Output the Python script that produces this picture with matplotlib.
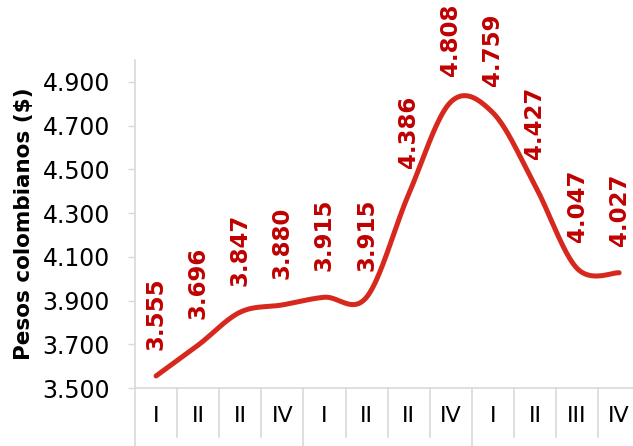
import numpy as np
import matplotlib.pyplot as plt
from matplotlib.transforms import blended_transform_factory

# Data
quarters = ['I', 'II', 'II', 'IV', 'I', 'II', 'II', 'IV', 'I', 'II', 'III', 'IV']
values = [3.555, 3.696, 3.847, 3.880, 3.915, 3.915, 4.386, 4.808, 4.759, 4.427, 4.047, 4.027]
yticks = [3.5, 3.7, 3.9, 4.1, 4.3, 4.5, 4.7, 4.9]

line_color = '#D7281E'
label_color = '#C00000'
grid_color = '#D9D9D9'

W, H = 633, 446
fig = plt.figure(figsize=(W / 100, H / 100), dpi=100)
left, bottom, top, cat_w = 135, 388, 60, 42.1
ax = fig.add_axes([left / W, (H - bottom) / H, 12 * cat_w / W, (bottom - top) / H])

x = np.arange(len(values)) + 0.5
y = np.array(values)

# smooth line (Bezier with Catmull-Rom control points, like a spreadsheet smoothed line)
px = np.concatenate([[x[0]], x, [x[-1]]])
py = np.concatenate([[y[0]], y, [y[-1]]])
t = np.linspace(0, 1, 40)[:, None]
xs, ys = [], []
for i in range(1, len(px) - 2):
    p0 = np.array([px[i], py[i]])
    p3 = np.array([px[i + 1], py[i + 1]])
    c1 = p0 + (np.array([px[i + 1], py[i + 1]]) - np.array([px[i - 1], py[i - 1]])) / 6
    c2 = p3 - (np.array([px[i + 2], py[i + 2]]) - np.array([px[i], py[i]])) / 6
    b = (1 - t) ** 3 * p0 + 3 * (1 - t) ** 2 * t * c1 + 3 * (1 - t) * t ** 2 * c2 + t ** 3 * p3
    xs.append(b[:, 0])
    ys.append(b[:, 1])
ax.plot(np.concatenate(xs), np.concatenate(ys), color=line_color, lw=3.6,
        solid_capstyle='round', clip_on=False)

# data labels
for xi, v in zip(x, values):
    ax.annotate(f'{v:.3f}', (xi, v), xytext=(0, 19), textcoords='offset points',
                rotation=90, ha='center', va='bottom', color=label_color,
                fontsize=16.5, fontweight='bold', annotation_clip=False)

ax.set_xlim(0, 12)
ax.set_ylim(3.5, 5.0)
ax.set_yticks(yticks)
ax.set_yticklabels([f'{v:.3f}' for v in yticks], fontsize=17)
ax.tick_params(axis='y', length=5, width=1, color=grid_color, pad=13)
ax.set_xticks([])
for s in ['top', 'right']:
    ax.spines[s].set_visible(False)
for s in ['left', 'bottom']:
    ax.spines[s].set_color(grid_color)
    ax.spines[s].set_linewidth(1.2)
ax.set_ylabel('Pesos colombianos ($)', fontsize=15.5, fontweight='bold', labelpad=6)

# category axis below
tr = blended_transform_factory(ax.transData, fig.transFigure)
y0 = (H - bottom) / H
for i in range(13):
    y1 = 0 if i % 4 == 0 else (H - 437) / H
    ax.plot([i, i], [y0, y1], color=grid_color, lw=1.2, transform=tr, clip_on=False)
for xi, q in zip(x, quarters):
    ax.text(xi, (H - 416) / H, q, transform=tr, ha='center', va='center', fontsize=16)

fig.savefig('out.png', dpi=100)
